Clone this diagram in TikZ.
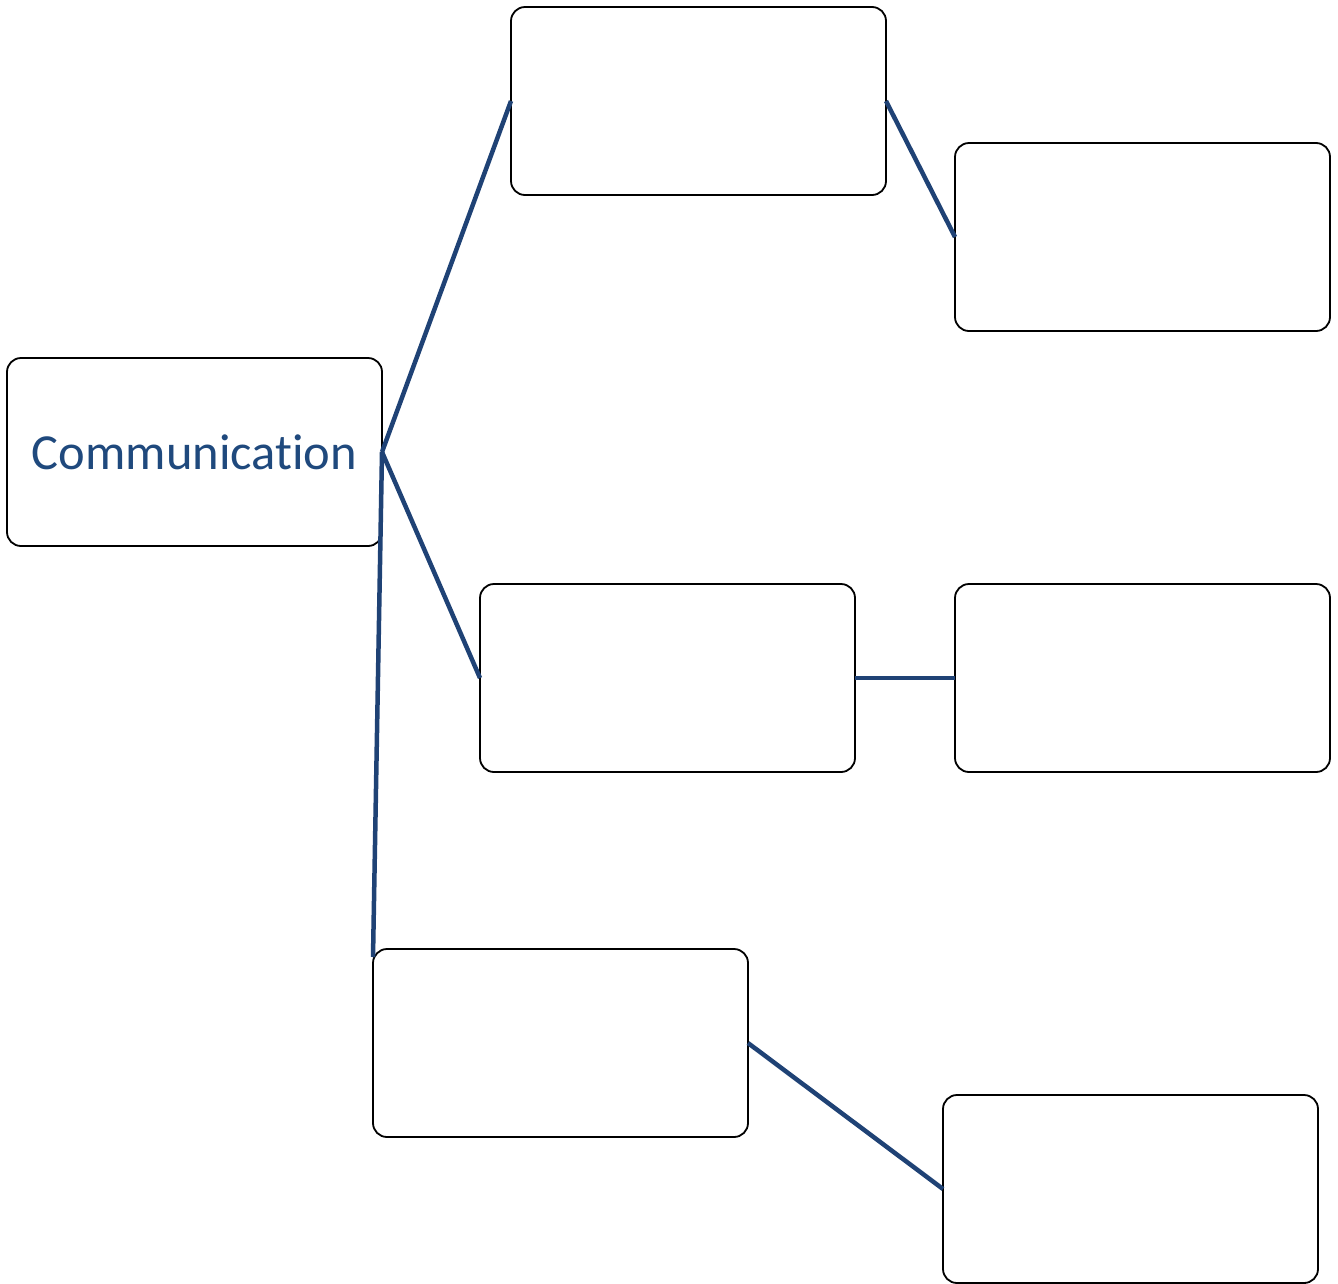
\documentclass[tikz,border=0pt]{standalone}
\usepackage{fontspec}
\setmainfont{Carlito}[RawFeature={-liga;-dlig}]
\definecolor{lnblue}{HTML}{1F4275}
\definecolor{txblue}{HTML}{1F497D}
\begin{document}
\begin{tikzpicture}[x=1pt,y=-1pt,
  box/.style={draw=black,line width=1.8pt,rounded corners=14pt,fill=white,
    minimum width=375pt,minimum height=188pt,inner sep=0pt,outer sep=0pt},
  link/.style={draw=lnblue,line width=4.5pt}]
\useasboundingbox (0,0) rectangle (1338,1283);
\node[box,font=\fontsize{50.5}{60}\selectfont,text=txblue] (comm) at (194.5,452) {Communication};
\node[box] (top) at (698.5,101) {};
\node[box] (topr) at (1142.5,237) {};
\node[box] (mid) at (667.5,678) {};
\node[box] (midr) at (1142.5,678) {};
\node[box] (bot) at (560.5,1043) {};
\node[box] (botr) at (1130.5,1189) {};
\draw[link] (comm.east) -- (top.west);
\draw[link] (comm.east) -- (mid.west);
\draw[link] (comm.east) -- ([yshift=-8pt]bot.north west);
\draw[link] (top.east) -- (topr.west);
\draw[link] (mid.east) -- (midr.west);
\draw[link] (bot.east) -- (botr.west);
\end{tikzpicture}
\end{document}
